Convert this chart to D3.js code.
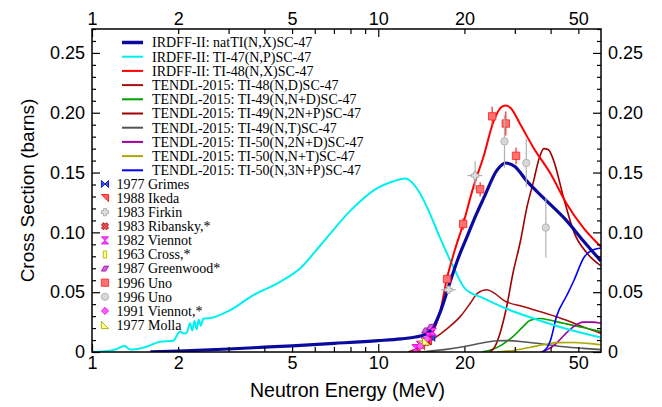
<!DOCTYPE html>
<html><head><meta charset="utf-8">
<script src="https://cdn.jsdelivr.net/npm/d3@7"></script>
<style>body{margin:0;background:#fff}svg{display:block}</style>
</head><body><svg id="c" width="662" height="407"></svg>
<script>
// ---------- data ----------
const xTickLabels = [1, 2, 5, 10, 20, 50];
const xMinorTicks = [3, 4, 6, 7, 8, 9, 30, 40];
const yTickLabels = [0, 0.05, 0.10, 0.15, 0.20, 0.25];

const natTiE = [1.6, 2, 3, 4, 5, 7, 10, 12, 13.5, 14.5, 15.5, 16.5, 17.9, 19, 20.4, 22, 23.4, 26, 27.8, 30, 33, 37.7, 45.4, 52, 60];
const natTiV = [0.0002, 0.0008, 0.0025, 0.004, 0.0052, 0.0072, 0.0095, 0.011, 0.0125, 0.0145, 0.02, 0.034, 0.06, 0.078, 0.096, 0.115, 0.129, 0.152, 0.158, 0.155, 0.143, 0.129, 0.11, 0.093, 0.076];

const ti47E = [1, 1.19, 1.3, 1.36, 1.55, 1.73, 1.92, 2.03, 2.1, 2.14, 2.2, 2.24, 2.28, 2.32, 2.36, 2.4, 2.45, 2.52, 3.04, 3.66, 4.54, 5.34, 6.27, 7.98, 9.76, 11.4, 12.4, 14, 15, 16.4, 18.3, 20.1, 23.3, 27.5, 34.9, 44.4, 60];
const ti47V = [0, 0.0017, 0.005, 0.002, 0.0044, 0.0086, 0.0094, 0.017, 0.0155, 0.016, 0.024, 0.018, 0.026, 0.019, 0.027, 0.022, 0.028, 0.028, 0.035, 0.0475, 0.0586, 0.07, 0.089, 0.118, 0.136, 0.143, 0.145, 0.1325, 0.118, 0.096, 0.071, 0.053, 0.045, 0.037, 0.028, 0.02, 0.012];

const ti48xE = [13.3, 14, 14.8, 15.5, 16.5, 17.4, 18.5, 19.8, 21.5, 23.3, 25.3, 27, 28, 29, 31.4, 34.8, 40, 45.5, 52, 60];
const ti48xV = [0, 0.003, 0.008, 0.016, 0.035, 0.062, 0.085, 0.107, 0.138, 0.163, 0.193, 0.205, 0.206, 0.204, 0.19, 0.171, 0.149, 0.124, 0.104, 0.088];

const ti48ndE = [12.7, 14, 15.6, 17.5, 19.4, 21, 22.2, 24, 25.5, 27.5, 32, 38.9, 45.5, 52, 60];
const ti48ndV = [0, 0.004, 0.011, 0.02, 0.03, 0.041, 0.049, 0.052, 0.049, 0.043, 0.038, 0.032, 0.0265, 0.021, 0.0155];

const ti49ndE = [23, 25, 27, 29.6, 32, 34, 36.7, 40, 44.4, 52, 60];
const ti49ndV = [0, 0.002, 0.006, 0.013, 0.021, 0.0265, 0.028, 0.0265, 0.024, 0.0205, 0.017];

const ti49n2npE = [24.5, 25.5, 26.5, 28.1, 29.5, 31.4, 33, 34.9, 36.5, 37.9, 39.3, 41, 44.4, 48.3, 53.9, 60];
const ti49n2npV = [0, 0.004, 0.014, 0.038, 0.065, 0.093, 0.12, 0.143, 0.162, 0.17, 0.169, 0.16, 0.129, 0.1, 0.082, 0.072];

const ti49ntE = [14, 17, 19.8, 23, 26, 28, 32, 38, 44.4, 52, 60];
const ti49ntV = [0, 0.002, 0.0044, 0.0075, 0.0094, 0.0095, 0.0086, 0.0065, 0.0044, 0.003, 0.002];

const ti50n2ndE = [37, 39, 42, 45, 48, 52, 56, 60];
const ti50n2ndV = [0, 0.002, 0.0075, 0.015, 0.021, 0.025, 0.025, 0.024];

const ti50nntE = [26, 30, 34, 38, 42, 48, 54, 60];
const ti50nntV = [0, 0.0015, 0.004, 0.0062, 0.0078, 0.008, 0.0072, 0.006];

const ti50n3npE = [37.5, 39, 40, 42, 45.5, 48.3, 52.3, 55.8, 60];
const ti50n3npV = [0, 0.004, 0.01, 0.03, 0.047, 0.06, 0.079, 0.085, 0.087];

// experimental data
const grimesE = [14.8, 15.3], grimesV = [0.009, 0.012];
const ikedaE = [13.6, 14.1, 14.9], ikedaV = [0.003, 0.005, 0.009];
const firkinE = [17.6, 21.8], firkinV = [0.052, 0.1475], firkinErr = [0.003, 0.012];
const ribanskyE = [14.7], ribanskyV = [0.008];
const viennot82E = [13.5, 14.0, 14.5, 15.0, 15.5], viennot82V = [0.003, 0.006, 0.009, 0.013, 0.017];
const crossE = [14.1], crossV = [0.006];
const greenwoodE = [14.6, 15.2], greenwoodV = [0.018, 0.021];
const unoRedE = [17.4, 19.8, 22.7, 25.0, 27.9, 30.3];
const unoRedV = [0.061, 0.107, 0.136, 0.197, 0.191, 0.164];
const unoRedErr = [0.004, 0.005, 0.006, 0.008, 0.01, 0.007];
const unoGrayE = [27.6, 32.9, 38.5];
const unoGrayV = [0.176, 0.158, 0.104];
const unoGrayErr = [0.022, 0.02, 0.025];
const viennot91E = [14.0, 14.8], viennot91V = [0.005, 0.011];
const mollaE = [14.7], mollaV = [0.009];

const lineNames = ["IRDFF-II: natTI(N,X)SC-47", "IRDFF-II: TI-47(N,P)SC-47", "IRDFF-II: TI-48(N,X)SC-47",
  "TENDL-2015: TI-48(N,D)SC-47", "TENDL-2015: TI-49(N,N+D)SC-47", "TENDL-2015: TI-49(N,2N+P)SC-47",
  "TENDL-2015: TI-49(N,T)SC-47", "TENDL-2015: TI-50(N,2N+D)SC-47", "TENDL-2015: TI-50(N,N+T)SC-47",
  "TENDL-2015: TI-50(N,3N+P)SC-47"];
const pointNames = ["1977 Grimes", "1988 Ikeda", "1983 Firkin", "1983 Ribansky,*", "1982 Viennot", "1963 Cross,*",
  "1987 Greenwood*", "1996 Uno", "1996 Uno", "1991 Viennot,*", "1977 Molla"];

// ---------- drawing ----------
const svg = d3.select("#c");
const X0 = 92, X1 = 601, Y0 = 352, Y1 = 29;
const x = d3.scaleLog().domain([1, 60]).range([X0, X1]);
const y = d3.scaleLinear().domain([0, 0.27]).range([Y0, Y1]);

const series = [
  {e: natTiE, v: natTiV, c: "#0a0aa0", w: 3.2},
  {e: ti47E, v: ti47V, c: "#00f0f0", w: 2},
  {e: ti48xE, v: ti48xV, c: "#ff0000", w: 2},
  {e: ti48ndE, v: ti48ndV, c: "#a81010", w: 1.6},
  {e: ti49ndE, v: ti49ndV, c: "#00a000", w: 1.6},
  {e: ti49n2npE, v: ti49n2npV, c: "#a00000", w: 1.6},
  {e: ti49ntE, v: ti49ntV, c: "#555555", w: 1.6},
  {e: ti50n2ndE, v: ti50n2ndV, c: "#a000a0", w: 1.6},
  {e: ti50nntE, v: ti50nntV, c: "#aaaa00", w: 1.6},
  {e: ti50n3npE, v: ti50n3npV, c: "#0000ff", w: 1.6}
];

svg.append("defs").append("clipPath").attr("id", "pc")
  .append("rect").attr("x", X0).attr("y", Y1).attr("width", X1 - X0).attr("height", Y0 - Y1);

const plot = svg.append("g").attr("clip-path", "url(#pc)");
const line = d3.line().x(d => x(d[0])).y(d => y(d[1])).curve(d3.curveMonotoneX);

const order = [3, 4, 5, 6, 7, 8, 9, 1, 2, 0];
order.forEach(i => {
  const s = series[i];
  plot.append("path").datum(s.e.map((e, k) => [e, s.v[k]]))
    .attr("d", line).attr("fill", "none").attr("stroke", s.c).attr("stroke-width", s.w)
    .attr("stroke-linejoin", "round");
});

const shapes = {
  bowtie: (s) => `M${-s},${-s}L${s},${s}L${s},${-s}L${-s},${s}Z`,
  hourglass: (s) => `M${-s},${-s}L${s},${-s}L${-s},${s}L${s},${s}Z`,
  rtri: (s) => `M${-s},${-s}L${s},${-s}L${s},${s}Z`,
  ltri: (s) => `M${-s},${-s}L${-s},${s}L${s},${s}Z`,
  plus: (s) => { const a = s * 0.4; return `M${-a},${-s}H${a}V${-a}H${s}V${a}H${a}V${s}H${-a}V${a}H${-s}V${-a}H${-a}Z`; },
  xcross: (s) => { const a = s * 0.4; return `M${-a},${-s}H${a}V${-a}H${s}V${a}H${a}V${s}H${-a}V${a}H${-s}V${-a}H${-a}Z`; },
  rect: (s) => `M${-s * 0.45},${-s}H${s * 0.45}V${s}H${-s * 0.45}Z`,
  para: (s) => `M${-s},${s * 0.7}L${-s * 0.2},${-s * 0.7}L${s},${-s * 0.7}L${s * 0.2},${s * 0.7}Z`,
  square: (s) => `M${-s},${-s}H${s}V${s}H${-s}Z`,
  circle: (s) => `M${-s},0A${s},${s} 0 1,0 ${s},0A${s},${s} 0 1,0 ${-s},0Z`,
  diamond: (s) => `M0,${-s}L${s},0L0,${s}L${-s},0Z`
};

const markerSets = [
  {e: grimesE, v: grimesV, shape: "bowtie", fill: "#3050ff", stroke: "#0000a0"},
  {e: ikedaE, v: ikedaV, shape: "rtri", fill: "#ff6060", stroke: "#ff0000"},
  {e: firkinE, v: firkinV, err: firkinErr, shape: "plus", fill: "#e0e0e0", stroke: "#a0a0a0", ecol: "#b0b0b0", herr: true},
  {e: ribanskyE, v: ribanskyV, shape: "xcross", rot: 45, fill: "#e05050", stroke: "#a00000"},
  {e: viennot82E, v: viennot82V, shape: "hourglass", fill: "#ff40ff", stroke: "#e000e0"},
  {e: crossE, v: crossV, shape: "rect", fill: "#ffff80", stroke: "#b0b000"},
  {e: greenwoodE, v: greenwoodV, shape: "para", fill: "#d060e0", stroke: "#a000a0"},
  {e: unoRedE, v: unoRedV, err: unoRedErr, shape: "square", fill: "#ff7070", stroke: "#ff2020", ecol: "#ff2020"},
  {e: unoGrayE, v: unoGrayV, err: unoGrayErr, shape: "circle", fill: "#d8d8d8", stroke: "#a8a8a8", ecol: "#b0b0b0"},
  {e: viennot91E, v: viennot91V, shape: "diamond", fill: "#ff60ff", stroke: "#e000e0"},
  {e: mollaE, v: mollaV, shape: "ltri", fill: "#ffff80", stroke: "#a0a000"}
];

markerSets.forEach(m => {
  const g = plot.append("g");
  m.e.forEach((e, k) => {
    const px = x(e), py = y(m.v[k]);
    if (m.err) {
      g.append("line").attr("x1", px).attr("x2", px).attr("y1", y(m.v[k] - m.err[k])).attr("y2", y(m.v[k] + m.err[k]))
        .attr("stroke", m.ecol).attr("stroke-width", 1.2);
      if (m.herr) g.append("line").attr("x1", x(e * 0.94)).attr("x2", x(e * 1.06)).attr("y1", py).attr("y2", py)
        .attr("stroke", m.ecol).attr("stroke-width", 1.2);
    }
    g.append("path").attr("d", shapes[m.shape](3.7))
      .attr("transform", `translate(${px},${py})` + (m.rot ? ` rotate(${m.rot})` : ""))
      .attr("fill", m.fill).attr("stroke", m.stroke).attr("stroke-width", 0.8);
  });
});

// ---------- axes ----------
const fontAx = "'Liberation Sans', Arial, sans-serif";
function xAxis(gen, ty, vals, size, labels) {
  const a = gen(x).tickValues(vals).tickSize(size).tickPadding(labels ? 4 : 0)
    .tickFormat(labels ? d3.format("d") : () => "");
  const g = svg.append("g").attr("transform", `translate(0,${ty})`).call(a);
  g.select(".domain").remove();
  g.selectAll("line").attr("stroke", "#000").attr("stroke-width", 1.2);
  g.selectAll("text").attr("font-family", fontAx).attr("font-size", 18).attr("fill", "#000");
  return g;
}
const xMajor = [1, 10];
const xLab = xTickLabels;
xAxis(d3.axisBottom, Y0, xLab.filter(v => !xMajor.includes(v)), -5, true);
xAxis(d3.axisBottom, Y0, xMajor, -8, true);
xAxis(d3.axisBottom, Y0, xMinorTicks, -5, false);
xAxis(d3.axisTop, Y1, xLab.filter(v => !xMajor.includes(v)), -5, true);
xAxis(d3.axisTop, Y1, xMajor, -8, true);
xAxis(d3.axisTop, Y1, xMinorTicks, -5, false);

const yMinor = d3.range(0, 0.2701, 0.01).filter(v => Math.abs(v * 20 - Math.round(v * 20)) > 1e-6);
function yAxis(gen, tx, vals, size, labels) {
  const a = gen(y).tickValues(vals).tickSize(size).tickPadding(labels ? 7 : 0)
    .tickFormat(labels ? (d => d === 0 ? "0" : d3.format(".2f")(d)) : () => "");
  const g = svg.append("g").attr("transform", `translate(${tx},0)`).call(a);
  g.select(".domain").remove();
  g.selectAll("line").attr("stroke", "#000").attr("stroke-width", 1.2);
  g.selectAll("text").attr("font-family", fontAx).attr("font-size", 18).attr("fill", "#000");
}
yAxis(d3.axisLeft, X0, yTickLabels, -8, true);
yAxis(d3.axisLeft, X0, yMinor, -4, false);
yAxis(d3.axisRight, X1, yTickLabels, -8, true);
yAxis(d3.axisRight, X1, yMinor, -4, false);

svg.append("rect").attr("x", X0).attr("y", Y1).attr("width", X1 - X0).attr("height", Y0 - Y1)
  .attr("fill", "none").attr("stroke", "#000").attr("stroke-width", 1.5);

svg.append("text").attr("x", (X0 + X1) / 2 + 1).attr("y", 397).attr("text-anchor", "middle")
  .attr("font-family", fontAx).attr("font-size", 19.5).text("Neutron Energy (MeV)");
svg.append("text").attr("transform", `translate(34,${(Y0 + Y1) / 2}) rotate(-90)`).attr("text-anchor", "middle")
  .attr("font-family", fontAx).attr("font-size", 19).text("Cross Section (barns)");

// ---------- legends ----------
const fontLeg = "'Liberation Serif', 'Times New Roman', serif";
const leg = svg.append("g");
lineNames.forEach((n, i) => {
  const yy = 42.5 + i * 14.2;
  leg.append("line").attr("x1", 122).attr("x2", 143).attr("y1", yy).attr("y2", yy)
    .attr("stroke", series[i].c).attr("stroke-width", i === 0 ? 3.5 : 2);
  leg.append("text").attr("x", 152).attr("y", yy + 4.8).attr("font-family", fontLeg).attr("font-size", 14)
    .attr("fill", "#000").text(n);
});
pointNames.forEach((n, i) => {
  const yy = 184 + i * 14.1;
  const m = markerSets[i];
  leg.append("path").attr("d", shapes[m.shape](3.6))
    .attr("transform", `translate(105,${yy})` + (m.rot ? ` rotate(${m.rot})` : ""))
    .attr("fill", m.fill).attr("stroke", m.stroke).attr("stroke-width", 0.8);
  leg.append("text").attr("x", 116.5).attr("y", yy + 4.8).attr("font-family", fontLeg).attr("font-size", 14)
    .attr("fill", "#000").text(n);
});
</script></body></html>
